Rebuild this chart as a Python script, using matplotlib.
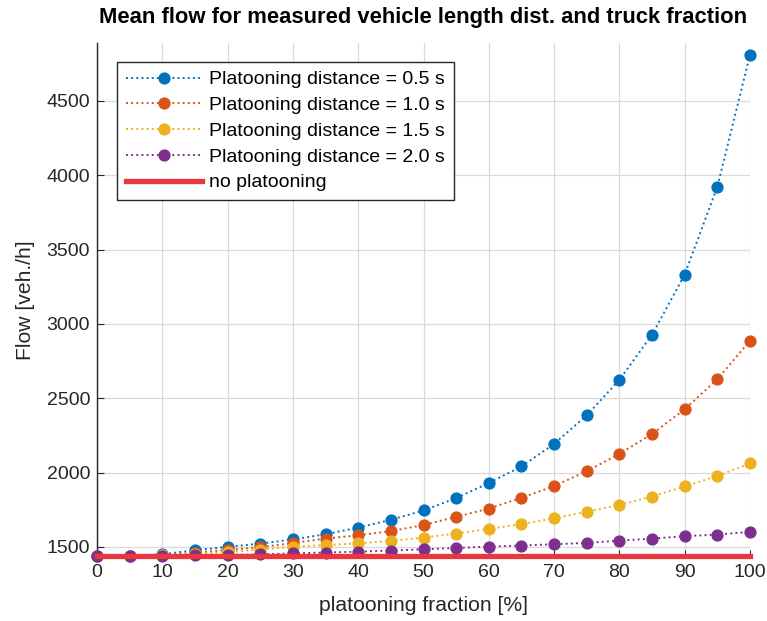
import matplotlib
matplotlib.use("Agg")
import matplotlib.pyplot as plt

plt.rcParams['font.family'] = ['Liberation Sans', 'DejaVu Sans']

# platooning fraction in percent
fraction = [0, 5, 10, 15, 20, 25, 30, 35, 40, 45, 50,
            55, 60, 65, 70, 75, 80, 85, 90, 95, 100]

# mean flow [veh./h] per platooning distance
flow_05 = [1440, 1442, 1450, 1478, 1500, 1522, 1550, 1585, 1630, 1682, 1745,
           1828, 1930, 2041, 2193, 2385, 2624, 2927, 3332, 3923, 4811]
flow_10 = [1440, 1441, 1445, 1460, 1480, 1498, 1526, 1556, 1578, 1606, 1647,
           1702, 1758, 1830, 1909, 2010, 2125, 2260, 2426, 2628, 2887]
flow_15 = [1440, 1440, 1443, 1452, 1465, 1482, 1502, 1512, 1524, 1540, 1563,
           1590, 1621, 1653, 1693, 1736, 1783, 1839, 1907, 1977, 2062]
flow_20 = [1440, 1440, 1441, 1443, 1446, 1450, 1456, 1462, 1468, 1475, 1484,
           1493, 1502, 1509, 1518, 1527, 1542, 1556, 1572, 1583, 1601]
flow_none = 1440

series_labels = ['Platooning distance = 0.5 s', 'Platooning distance = 1.0 s',
                 'Platooning distance = 1.5 s', 'Platooning distance = 2.0 s']
series_colors = ['#0072BD', '#D95319', '#EDB120', '#7E2F8E']

W, H = 767, 621
fig = plt.figure(figsize=(W / 100, H / 100), dpi=100)
ax = fig.add_axes([97 / W, 1 - 557 / H, (750 - 97) / W, (557 - 43) / H])

for vals, lab, col in zip([flow_05, flow_10, flow_15, flow_20], series_labels, series_colors):
    ax.plot(fraction, vals, linestyle=':', linewidth=1.4, color=col,
            marker='o', markersize=7.8, markerfacecolor=col, markeredgecolor=col,
            label=lab, clip_on=False, zorder=3)

ax.plot([fraction[0], fraction[-1]], [flow_none, flow_none], color='#E8383D',
        linewidth=3.8, label='no platooning', clip_on=False, zorder=4)

ax.set_xlim(0, 100)
ax.set_ylim(1432, 4890)
ax.set_xticks(range(0, 101, 10))
ax.set_yticks(range(1500, 4501, 500))
ax.tick_params(axis='both', direction='in', labelsize=14, length=5,
               color='#262626', labelcolor='#262626', pad=5)
ax.grid(True, color='#DADADA', linewidth=0.9)
ax.set_axisbelow(True)
for side in ['top', 'right']:
    ax.spines[side].set_visible(False)
for side in ['left', 'bottom']:
    ax.spines[side].set_color('#262626')
    ax.spines[side].set_linewidth(1.0)

ax.set_xlabel('platooning fraction [%]', fontsize=15.2, color='#262626', labelpad=11)
ax.set_ylabel('Flow [veh./h]', fontsize=15.2, color='#262626', labelpad=8)

fig.text(423 / W, 1 - 18 / H,
         'Mean flow for measured vehicle length dist. and truck fraction',
         ha='center', va='center', fontsize=15.8, fontweight='bold', color='black')

leg = ax.legend(loc='upper left', bbox_to_anchor=(20 / 653, 1 - 19 / 514),
                fontsize=14, frameon=True, fancybox=False, edgecolor='#262626',
                framealpha=1, handlelength=3.9, borderpad=0.45, labelspacing=0.42,
                handletextpad=0.4, borderaxespad=0)
leg.get_frame().set_linewidth(1.0)

fig.savefig('out.png', dpi=100)
